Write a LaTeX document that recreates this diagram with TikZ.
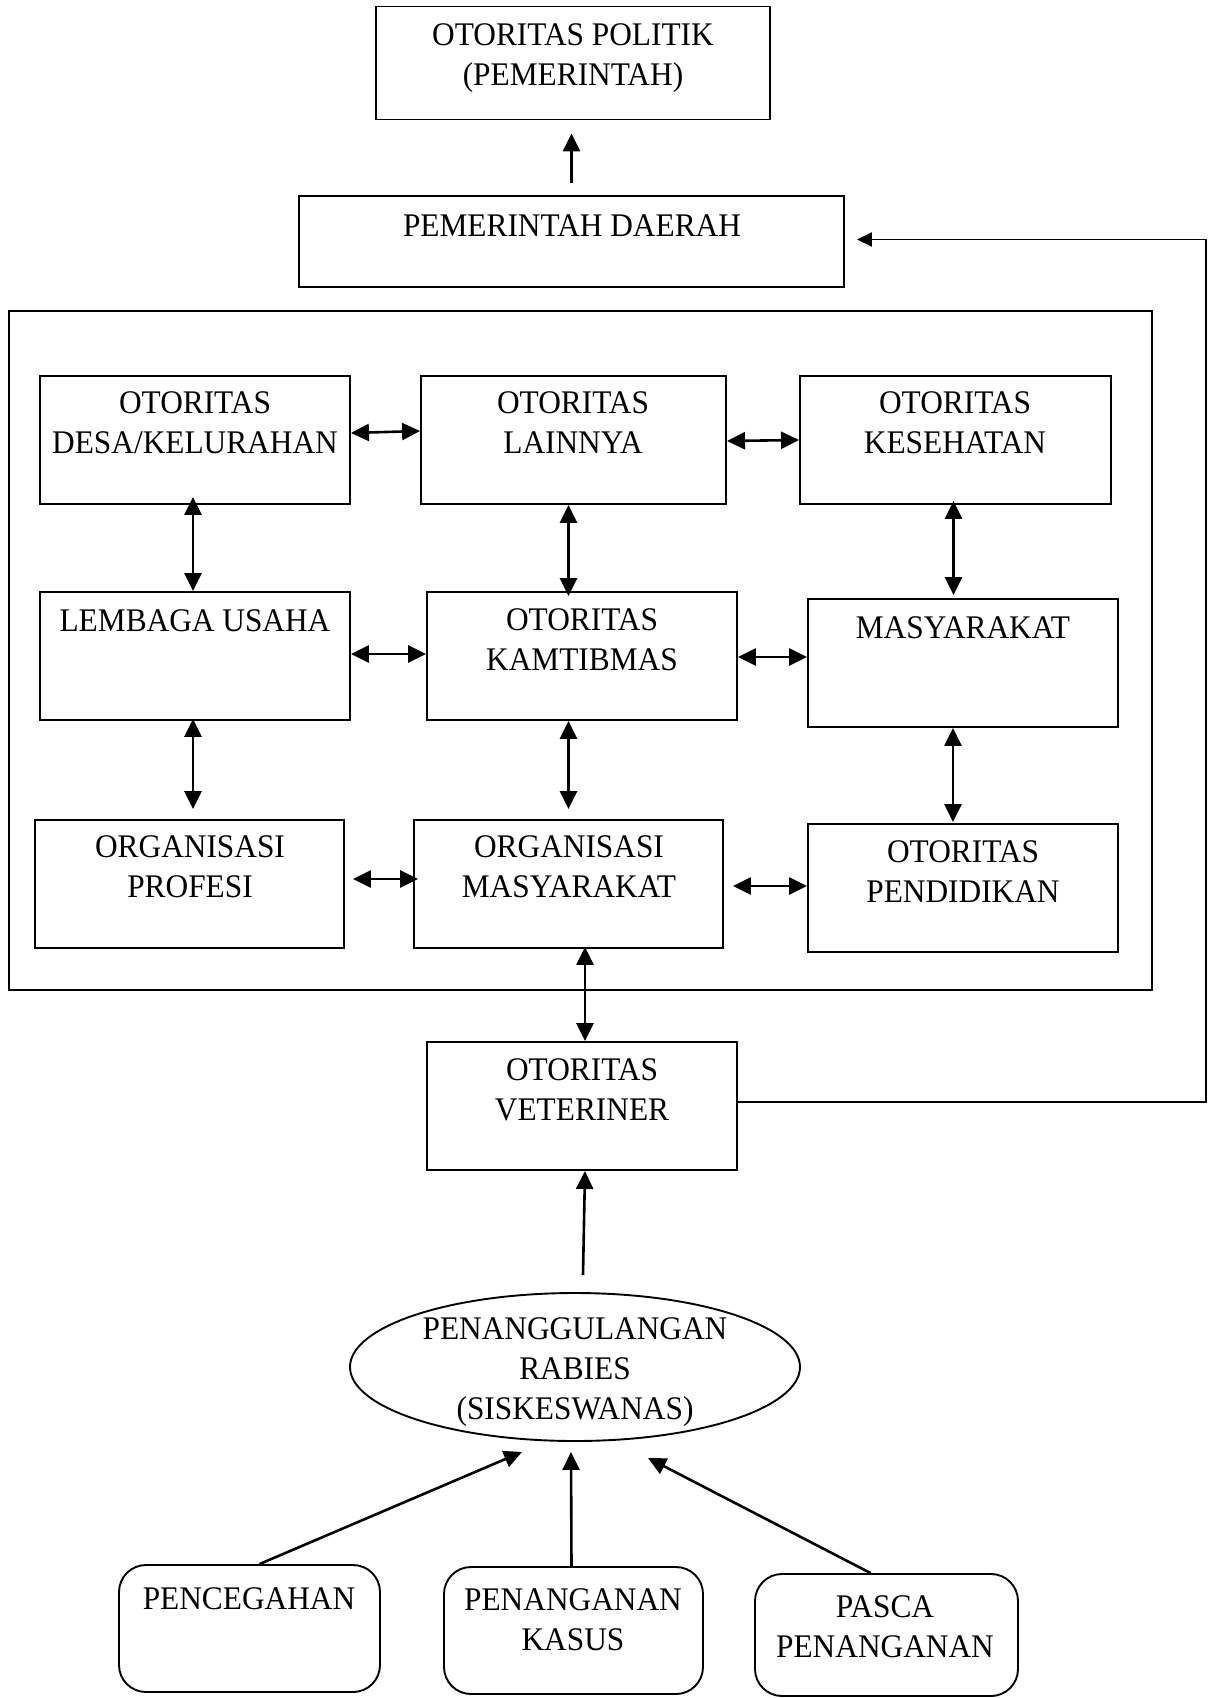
\documentclass[tikz,border=0pt]{standalone}
\usepackage{fontspec}
\setmainfont[FakeStretch=0.95]{Liberation Serif}
\usetikzlibrary{arrows.meta,calc,shapes.geometric}
\begin{document}
\begin{tikzpicture}[x=1pt,y=-1pt,
 box/.style={draw,line width=1.9pt,inner sep=0pt},
 rbox/.style={box,rounded corners=27pt},
 lbl/.style={align=center,font=\fontsize{33}{40}\selectfont,inner sep=0pt},
 con/.style={line width=2.6pt},
 uni/.style={con,-{Triangle[length=18pt,width=17pt]}},
 dbl/.style={con,{Triangle[length=18pt,width=17pt]}-{Triangle[length=18pt,width=17pt]}},
 loop/.style={line width=1.9pt,-{Triangle[length=15pt,width=14pt]}}]
\useasboundingbox (0,0) rectangle (1213,1698);

% boxes
\node[box,minimum width=394pt,minimum height=113pt] (politik) at (573,63) {};
\node[box,minimum width=545pt,minimum height=91pt] (pd) at (571.5,241.5) {};
\node[box,minimum width=1143pt,minimum height=679pt] (outer) at (580.5,650.5) {};
\node[box,minimum width=310pt,minimum height=128pt] (desa) at (195,440) {};
\node[box,minimum width=305pt,minimum height=128pt] (lain) at (573.5,440) {};
\node[box,minimum width=311pt,minimum height=128pt] (kes) at (955.5,440) {};
\node[box,minimum width=310pt,minimum height=128pt] (lemb) at (195,656) {};
\node[box,minimum width=310pt,minimum height=128pt] (kamt) at (582,656) {};
\node[box,minimum width=310pt,minimum height=128pt] (masy) at (963,663) {};
\node[box,minimum width=309pt,minimum height=128pt] (prof) at (189.5,884) {};
\node[box,minimum width=309pt,minimum height=128pt] (omas) at (568.5,884) {};
\node[box,minimum width=310pt,minimum height=128pt] (pend) at (963,888) {};
\node[box,minimum width=310pt,minimum height=128pt] (vet) at (582,1106) {};
\node[box,ellipse,minimum width=450pt,minimum height=148pt] (ell) at (575,1367) {};
\node[rbox,minimum width=261pt,minimum height=127pt] (pcg) at (249.5,1628.5) {};
\node[rbox,minimum width=259pt,minimum height=127pt] (pkas) at (573.5,1630.5) {};
\node[rbox,minimum width=263pt,minimum height=122pt] (pasca) at (886.5,1635) {};

% texts
\node[lbl] (politik-t) at (573,58.5) {OTORITAS POLITIK\\(PEMERINTAH)};
\node[lbl] (pd-t) at (572,226) {PEMERINTAH DAERAH};
\node[lbl] (desa-t) at (195,423) {OTORITAS\\DESA/KELURAHAN};
\node[lbl] (lain-t) at (573,423) {OTORITAS\\LAINNYA};
\node[lbl] (kes-t) at (955,423) {OTORITAS\\KESEHATAN};
\node[lbl] (lemb-t) at (195,621) {LEMBAGA USAHA};
\node[lbl] (kamt-t) at (582,640) {OTORITAS\\KAMTIBMAS};
\node[lbl] (masy-t) at (963,628) {MASYARAKAT};
\node[lbl] (prof-t) at (190,867) {ORGANISASI\\PROFESI};
\node[lbl] (omas-t) at (569,867) {ORGANISASI\\MASYARAKAT};
\node[lbl] (pend-t) at (963,872) {OTORITAS\\PENDIDIKAN};
\node[lbl] (vet-t) at (582,1090) {OTORITAS\\VETERINER};
\node[lbl] (ell-t) at (575,1372) {PENANGGULANGAN\\RABIES\\(SISKESWANAS)};
\node[lbl] (pcg-t) at (249,1599) {PENCEGAHAN};
\node[lbl] (pkas-t) at (573,1620) {PENANGANAN\\KASUS};
\node[lbl] (pasca-t) at (885,1627) {PASCA\\PENANGANAN};

% connectors
\draw[uni] ($(pd.north)+(0,-12)$) -- ($(pd.north |- politik.south)+(0,13)$);
\draw[dbl] ($(desa.east)+(0,-7)$) -- ($(lain.west)+(0,-9)$);
\draw[dbl] ($(lain.east)+(0,1)$) -- ($(kes.west)+(0,0)$);
\draw[dbl] ($(desa.south)+(-2,-8)$) -- ($(lemb.north)+(-2,0)$);
\draw[dbl] ($(lain.south)+(-5,0)$) -- ($(lain.south |- kamt.north)+(-5,5)$);
\draw[dbl] ($(kes.south)+(-2,-4)$) -- ($(kes.south |- masy.north)+(-2,-3)$);
\draw[dbl] ($(lemb.east)+(0,-2)$) -- ($(kamt.west)+(0,-2)$);
\draw[dbl] ($(kamt.east)+(0,1)$) -- ($(masy.west)+(0,-6)$);
\draw[dbl] ($(lemb.south)+(-2,-2)$) -- ($(lemb.south |- prof.north)+(-2,-10)$);
\draw[dbl] (omas.north |- kamt.south) -- ($(omas.north)+(0,-10)$);
\draw[dbl] ($(masy.south)+(-10,0)$) -- ($(pend.north)+(-10,-1)$);
\draw[dbl] ($(prof.east)+(8,-5)$) -- ($(omas.west)+(5,-5)$);
\draw[dbl] ($(omas.east)+(9,2)$) -- ($(pend.west)+(0,-2)$);
\draw[dbl] ($(omas.south)+(16.5,-2)$) -- ($(vet.north)+(3,0)$);
\draw[uni] ($(ell.north)+(8,-17)$) -- ($(vet.south)+(3,0)$);
\draw[loop] ($(vet.east)+(0,-4)$) -- ++(468,0) |- ($(pd.east)+(12,-2)$);
\draw[uni] ($(pcg.north)+(10,0)$) -- ($(ell.south)+(-53,10)$);
\draw[uni] ($(pkas.north)+(-2,0)$) -- ($(ell.south)+(-4,10)$);
\draw[uni] ($(pasca.north)+(-16,0)$) -- ($(ell.south)+(73,16)$);
\end{tikzpicture}
\end{document}
